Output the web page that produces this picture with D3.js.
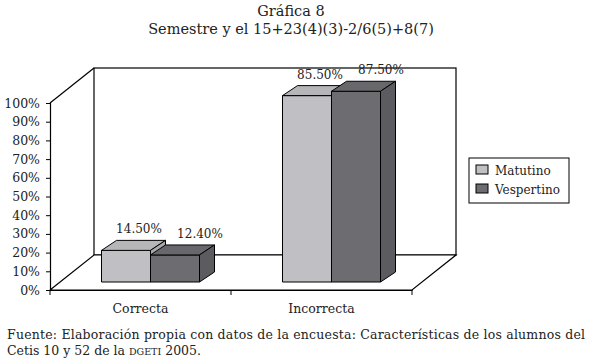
<!DOCTYPE html>
<html>
<head>
<meta charset="utf-8">
<script src="https://cdn.jsdelivr.net/npm/d3@7"></script>
<style>
  body { margin: 0; background: #fff; }
</style>
</head>
<body>
<div id="graph-container"></div>
<script>
// Chart data
const categories = ["Correcta", "Incorrecta"];
const series = ["Matutino", "Vespertino"];
const matutino = [14.5, 85.5];
const vespertino = [12.4, 87.5];
const yTicks = [0, 10, 20, 30, 40, 50, 60, 70, 80, 90, 100];
const valueLabels = [["14.50%", "85.50%"], ["12.40%", "87.50%"]];

document.addEventListener("DOMContentLoaded", (event) => {
    const svgWidth = 590;
    const svgHeight = 363;
    const serif = "'DejaVu Serif', serif";

    const svg = d3.select("#graph-container").append("svg")
        .attr("width", svgWidth)
        .attr("height", svgHeight)
        .attr("font-family", serif);

    // Plot box (front plane) and the depth offset of the back wall
    const left = 50, right = 412, bottom = 290, top = 103;
    const depthX = 44, depthY = -35;

    // Axis scale (front plane)
    const y = d3.scaleLinear().domain([0, 100]).range([bottom, top]);

    // Bars sit partway into the depth, on their own height scale as in the original chart
    const barFrontX = 10, barFrontY = -8;
    const barDepthX = 15, barDepthY = -10;
    const yBar = d3.scaleLinear().domain([0, 100]).range([bottom + barFrontY, bottom + barFrontY - 218]);

    const x = d3.scaleBand()
        .domain(categories)
        .range([left, right]);

    const xInner = d3.scaleBand()
        .domain(series)
        .range([41.5, x.bandwidth() - 41.5]);

    const colors = {
        Matutino: { front: "#c0c0c4", top: "#b6b6ba", side: "#a9a9ad" },
        Vespertino: { front: "#6d6d71", top: "#68686c", side: "#5c5c60" }
    };

    const line = d3.line();

    // Back wall
    svg.append("rect")
        .attr("x", left + depthX)
        .attr("y", top + depthY)
        .attr("width", right - left)
        .attr("height", bottom - top)
        .attr("fill", "#fff")
        .attr("stroke", "#000")
        .attr("stroke-width", 1.2);

    // Side wall edge
    svg.append("path")
        .attr("d", line([[left, top], [left + depthX, top + depthY]]))
        .attr("stroke", "#000").attr("stroke-width", 1.2).attr("fill", "none");

    // Floor
    svg.append("path")
        .attr("d", line([[left, bottom], [right, bottom], [right + depthX, bottom + depthY], [left + depthX, bottom + depthY], [left, bottom]]))
        .attr("stroke", "#000").attr("stroke-width", 1.2).attr("fill", "#fff");

    // Y axis
    const yAxis = d3.axisLeft(y)
        .tickValues(yTicks)
        .tickSize(4)
        .tickFormat(d => d + "%");

    const gy = svg.append("g")
        .attr("transform", `translate(${left}, 0)`)
        .call(yAxis)
        .attr("font-family", serif);
    gy.select(".domain").attr("stroke", "#000").attr("stroke-width", 1.2);
    gy.selectAll(".tick line").attr("stroke", "#000");
    gy.selectAll(".tick text")
        .attr("x", -10)
        .attr("font-size", 12.5)
        .attr("fill", "#222");

    // X axis
    const xAxis = d3.axisBottom(x)
        .tickSize(0)
        .tickPadding(14);

    const gx = svg.append("g")
        .attr("transform", `translate(0, ${bottom})`)
        .call(xAxis)
        .attr("font-family", serif);
    gx.select(".domain").attr("stroke", "#000").attr("stroke-width", 1.2);
    gx.selectAll(".tick text")
        .attr("font-size", 12.5)
        .attr("fill", "#222");

    // Category separators
    svg.selectAll(".sep")
        .data(x.range().concat([x(categories[1])]))
        .enter().append("line")
        .attr("x1", d => d).attr("x2", d => d)
        .attr("y1", bottom).attr("y2", bottom + 5)
        .attr("stroke", "#000");

    // Bars
    const bars = [];
    categories.forEach((c, i) => {
        bars.push({ category: c, series: "Matutino", value: matutino[i], label: valueLabels[0][i], labelDx: 13 });
        bars.push({ category: c, series: "Vespertino", value: vespertino[i], label: valueLabels[1][i], labelDx: 25 });
    });

    const barG = svg.selectAll(".bar")
        .data(bars)
        .enter().append("g")
        .attr("class", "bar");

    const x0 = d => x(d.category) + xInner(d.series) + barFrontX;
    const x1 = d => x0(d) + xInner.bandwidth();
    const yTop = d => yBar(d.value);
    const yBot = d => yBar(0);

    // Front face
    barG.append("path")
        .attr("d", d => line([[x0(d), yBot(d)], [x0(d), yTop(d)], [x1(d), yTop(d)], [x1(d), yBot(d)]]) + "Z")
        .attr("fill", d => colors[d.series].front)
        .attr("stroke", "#000").attr("stroke-width", 1);

    // Top face
    barG.append("path")
        .attr("d", d => line([[x0(d), yTop(d)], [x0(d) + barDepthX, yTop(d) + barDepthY], [x1(d) + barDepthX, yTop(d) + barDepthY], [x1(d), yTop(d)]]) + "Z")
        .attr("fill", d => colors[d.series].top)
        .attr("stroke", "#000").attr("stroke-width", 1);

    // Side face
    barG.append("path")
        .attr("d", d => line([[x1(d), yTop(d)], [x1(d) + barDepthX, yTop(d) + barDepthY], [x1(d) + barDepthX, yBot(d) + barDepthY], [x1(d), yBot(d)]]) + "Z")
        .attr("fill", d => colors[d.series].side)
        .attr("stroke", "#000").attr("stroke-width", 1);

    // Value labels
    barG.append("text")
        .attr("x", d => (x0(d) + x1(d)) / 2 + d.labelDx)
        .attr("y", d => yTop(d) - 17)
        .attr("text-anchor", "middle")
        .attr("font-size", 12)
        .attr("fill", "#222")
        .text(d => d.label);

    // Legend
    const legend = svg.append("g").attr("transform", "translate(469, 158)");
    legend.append("rect")
        .attr("width", 100).attr("height", 45)
        .attr("fill", "#fff").attr("stroke", "#000");
    const items = legend.selectAll(".item")
        .data(series)
        .enter().append("g")
        .attr("transform", (d, i) => `translate(7, ${7 + i * 19})`);
    items.append("rect")
        .attr("width", 12).attr("height", 9)
        .attr("fill", d => colors[d].front)
        .attr("stroke", "#000");
    items.append("text")
        .attr("x", 19).attr("y", 10)
        .attr("font-size", 12)
        .attr("fill", "#222")
        .text(d => d);

    // Title
    svg.append("text")
        .attr("x", 291).attr("y", 16)
        .attr("text-anchor", "middle")
        .attr("font-size", 14.5)
        .attr("fill", "#222")
        .text("Gráfica 8");
    svg.append("text")
        .attr("x", 291).attr("y", 34)
        .attr("text-anchor", "middle")
        .attr("font-size", 14.5)
        .attr("fill", "#222")
        .text("Semestre y el 15+23(4)(3)-2/6(5)+8(7)");

    // Source note
    svg.append("text")
        .attr("x", 7).attr("y", 339)
        .attr("font-size", 12.5)
        .attr("fill", "#222")
        .attr("textLength", 578)
        .attr("lengthAdjust", "spacing")
        .text("Fuente: Elaboración propia con datos de la encuesta: Características de los alumnos del");
    const note2 = svg.append("text")
        .attr("x", 7).attr("y", 355)
        .attr("font-size", 12.5)
        .attr("fill", "#222");
    note2.append("tspan").text("Cetis 10 y 52 de la ");
    note2.append("tspan").attr("font-size", 9.5).text("DGETI");
    note2.append("tspan").text(" 2005.");
});
</script>
</body>
</html>
